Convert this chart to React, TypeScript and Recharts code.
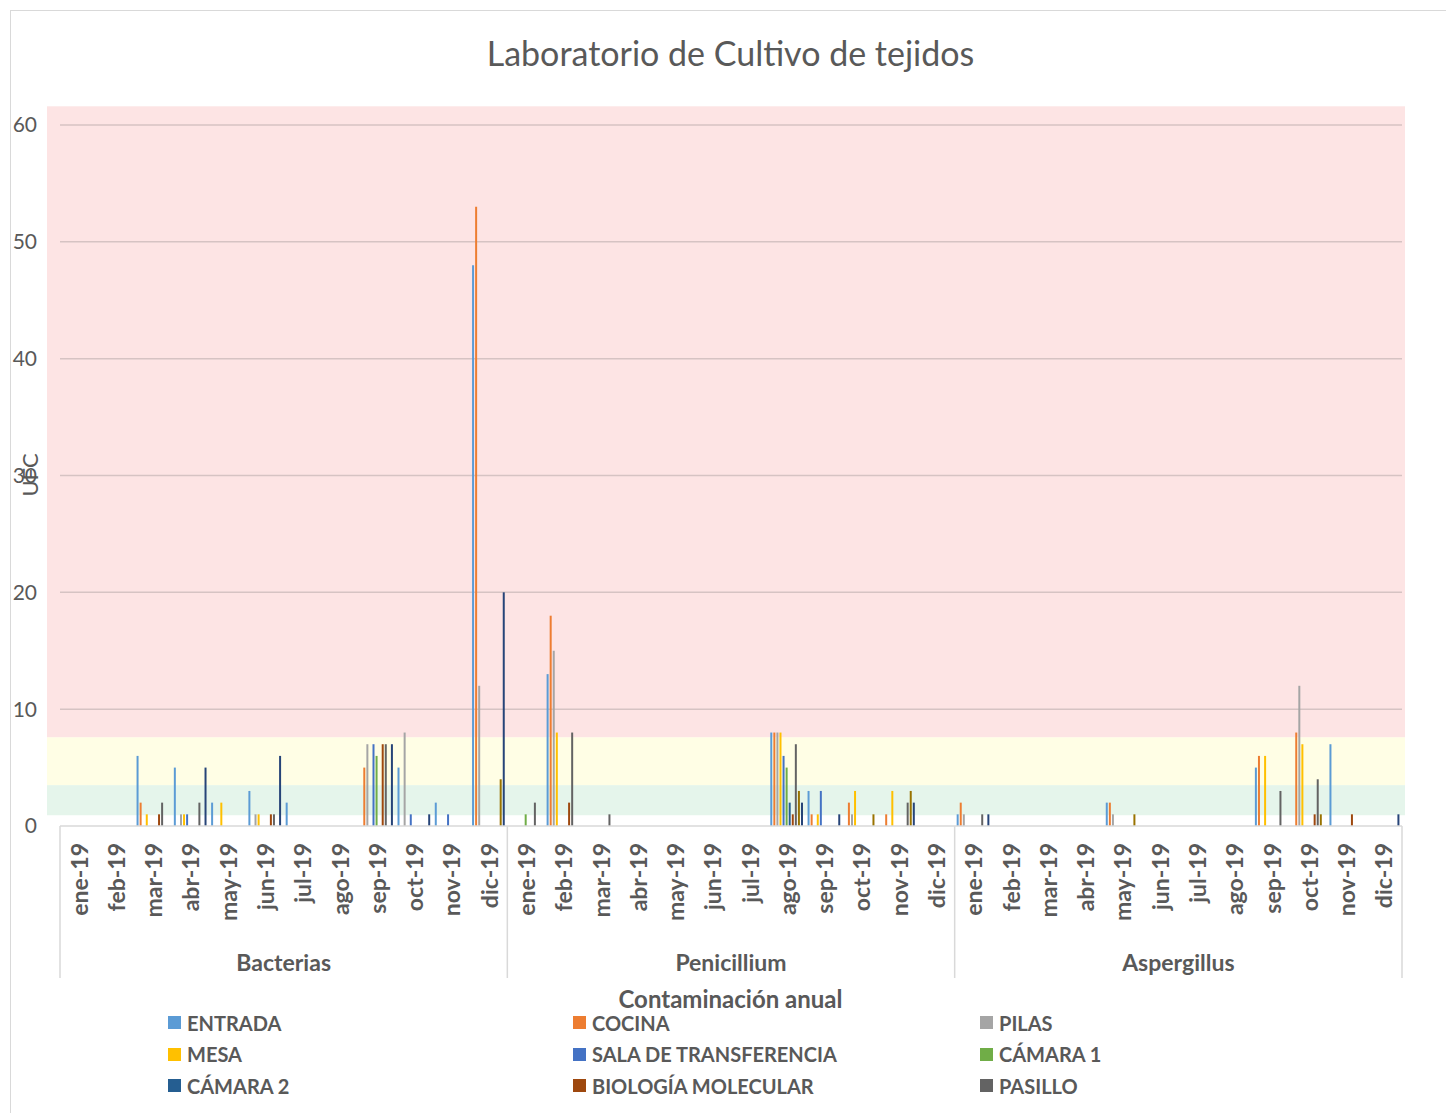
import React from 'react';
import { BarChart, Bar, XAxis, YAxis, ReferenceArea } from 'recharts';

const MONTHS = ['ene-19', 'feb-19', 'mar-19', 'abr-19', 'may-19', 'jun-19', 'jul-19', 'ago-19', 'sep-19', 'oct-19', 'nov-19', 'dic-19'];
const GROUPS = ['Bacterias', 'Penicillium', 'Aspergillus'];
const Y_TICKS = [0, 10, 20, 30, 40, 50, 60];

// values per category: Bacterias (12 months) | Penicillium (12) | Aspergillus (12)
const ENTRADA = [0, 0, 6, 5, 2, 3, 2, 0, 0, 5, 2, 48, 0, 13, 0, 0, 0, 0, 0, 8, 3, 0, 0, 0, 1, 0, 0, 0, 2, 0, 0, 0, 5, 0, 7, 0];
const COCINA = [0, 0, 2, 0, 0, 0, 0, 0, 5, 0, 0, 53, 0, 18, 0, 0, 0, 0, 0, 8, 1, 2, 1, 0, 2, 0, 0, 0, 2, 0, 0, 0, 6, 8, 0, 0];
const PILAS = [0, 0, 0, 1, 0, 1, 0, 0, 7, 8, 0, 12, 0, 15, 0, 0, 0, 0, 0, 8, 0, 1, 0, 0, 1, 0, 0, 0, 1, 0, 0, 0, 0, 12, 0, 0];
const MESA = [0, 0, 1, 1, 2, 1, 0, 0, 0, 0, 0, 0, 0, 8, 0, 0, 0, 0, 0, 8, 1, 3, 3, 0, 0, 0, 0, 0, 0, 0, 0, 0, 6, 7, 0, 0];
const SALA = [0, 0, 0, 1, 0, 0, 0, 0, 7, 1, 1, 0, 0, 0, 0, 0, 0, 0, 0, 6, 3, 0, 0, 0, 0, 0, 0, 0, 0, 0, 0, 0, 0, 0, 0, 0];
const CAMARA1 = [0, 0, 0, 0, 0, 0, 0, 0, 6, 0, 0, 0, 1, 0, 0, 0, 0, 0, 0, 5, 0, 0, 0, 0, 0, 0, 0, 0, 0, 0, 0, 0, 0, 0, 0, 0];
const CAMARA2 = [0, 0, 0, 0, 0, 0, 0, 0, 0, 0, 0, 0, 0, 0, 0, 0, 0, 0, 0, 2, 0, 0, 0, 0, 0, 0, 0, 0, 0, 0, 0, 0, 0, 0, 0, 0];
const BIOLOGIA = [0, 0, 1, 0, 0, 1, 0, 0, 7, 0, 0, 0, 0, 2, 0, 0, 0, 0, 0, 1, 0, 0, 0, 0, 0, 0, 0, 0, 0, 0, 0, 0, 0, 1, 1, 0];
const PASILLO = [0, 0, 2, 2, 0, 1, 0, 0, 7, 0, 0, 0, 2, 8, 1, 0, 0, 0, 0, 7, 0, 0, 2, 0, 1, 0, 0, 0, 0, 0, 0, 0, 3, 4, 0, 0];
const SERIE10 = [0, 0, 0, 0, 0, 0, 0, 0, 0, 0, 0, 4, 0, 0, 0, 0, 0, 0, 0, 3, 0, 1, 3, 0, 0, 0, 0, 0, 1, 0, 0, 0, 0, 1, 0, 0];
const SERIE11 = [0, 0, 0, 5, 0, 6, 0, 0, 7, 1, 0, 20, 0, 0, 0, 0, 0, 0, 0, 2, 1, 0, 2, 0, 1, 0, 0, 0, 0, 0, 0, 0, 0, 0, 0, 1];

// background quality bands (value ranges)
const BANDS = [
  { from: 0.92, to: 3.5, color: '#E5F5EB' },
  { from: 3.5, to: 7.6, color: '#FFFEE5' },
  { from: 7.6, to: 61.6, color: '#FDE4E4' },
];

const SERIES = [
  { key: 'ENTRADA', name: 'ENTRADA', color: '#5B9BD5', values: ENTRADA, legend: true },
  { key: 'COCINA', name: 'COCINA', color: '#ED7D31', values: COCINA, legend: true },
  { key: 'PILAS', name: 'PILAS', color: '#A5A5A5', values: PILAS, legend: true },
  { key: 'MESA', name: 'MESA', color: '#FFC000', values: MESA, legend: true },
  { key: 'SALA', name: 'SALA DE TRANSFERENCIA', color: '#4472C4', values: SALA, legend: true },
  { key: 'CAMARA1', name: 'CÁMARA 1', color: '#70AD47', values: CAMARA1, legend: true },
  { key: 'CAMARA2', name: 'CÁMARA 2', color: '#255E91', values: CAMARA2, legend: true },
  { key: 'BIOLOGIA', name: 'BIOLOGÍA MOLECULAR', color: '#9E480E', values: BIOLOGIA, legend: true },
  { key: 'PASILLO', name: 'PASILLO', color: '#636363', values: PASILLO, legend: true },
  { key: 'SERIE10', name: 'Serie 10', color: '#997300', values: SERIE10, legend: false },
  { key: 'SERIE11', name: 'Serie 11', color: '#264478', values: SERIE11, legend: false },
];

const rows = GROUPS.flatMap((g, gi) =>
  MONTHS.map((m, mi) => {
    const idx = gi * MONTHS.length + mi;
    const r: any = { key: `${g} ${m}`, month: m, group: g };
    SERIES.forEach((s) => {
      r[s.key] = s.values[idx];
    });
    return r;
  })
);

const W = 1439;
const H = 1100;
const MARGIN = { top: 114, right: 48, left: 0, bottom: 105 };
const Y_W = 49;
const X_H = 180;
const PLOT_W = W - MARGIN.left - MARGIN.right - Y_W;
const TEXT = '#595959';
const FONT = 'Lato, "Open Sans", sans-serif';

const MonthTick = (props: any) => {
  const { x, y, index, payload } = props;
  const i = typeof index === 'number' ? index : payload?.index ?? 0;
  const half = payload && typeof payload.offset === 'number' && payload.offset > 0 ? payload.offset : PLOT_W / rows.length / 2;
  const n = MONTHS.length;
  const ty = y + 17;
  const row = rows[i];
  return (
    <g>
      <text
        x={x}
        y={ty}
        transform={`rotate(-90, ${x}, ${ty})`}
        textAnchor="end"
        dominantBaseline="central"
        fill={TEXT}
        fontSize={23}
        fontWeight={700}
        fontFamily={FONT}
      >
        {row ? row.month : ''}
      </text>
      {i % n === 0 && <line x1={x - half} x2={x - half} y1={y} y2={y + 152} stroke="#d9d9d9" strokeWidth={1.5} />}
      {i === rows.length - 1 && <line x1={x + half} x2={x + half} y1={y} y2={y + 152} stroke="#d9d9d9" strokeWidth={1.5} />}
      {i % n === n / 2 - 1 && (
        <text x={x + half} y={y + 136} textAnchor="middle" dominantBaseline="central" fill={TEXT} fontSize={23} fontWeight={700} fontFamily={FONT}>
          {row ? row.group : ''}
        </text>
      )}
    </g>
  );
};

// band rectangle (slightly wider than the plot) plus the value gridlines that fall inside it
const bandShape = (band: { from: number; to: number; color: string }) => (p: any) => {
  const pxPerUnit = p.height / (band.to - band.from);
  const yOf = (v: number) => p.y + (band.to - v) * pxPerUnit;
  const lines = Y_TICKS.filter((t) => t > 0 && t >= band.from && t <= band.to);
  return (
    <g>
      <rect x={p.x - 13} y={p.y} width={p.width + 16} height={p.height} fill={band.color} stroke="none" />
      {lines.map((t) => (
        <line key={t} x1={p.x} x2={p.x + p.width} y1={yOf(t)} y2={yOf(t)} stroke="#d6c3c3" strokeWidth={1.5} />
      ))}
    </g>
  );
};

export default function App() {
  const legendItems = SERIES.filter((s) => s.legend);
  return (
    <div style={{ paddingLeft: 2, paddingTop: 2 }}>
      <div
        style={{
          position: 'relative',
          width: 1441,
          height: 1110,
          border: '1px solid #d9d9d9',
          boxSizing: 'border-box',
          fontFamily: FONT,
          color: TEXT,
          overflow: 'hidden',
          background: '#fff',
        }}
      >
        <BarChart width={W} height={H} data={rows} margin={MARGIN} barGap={1.07} barSize={2}>
          {BANDS.map((b) => (
            <ReferenceArea key={b.color} y1={b.from} y2={b.to} ifOverflow="visible" shape={bandShape(b)} />
          ))}
          <XAxis
            dataKey="key"
            interval={0}
            height={X_H}
            tickSize={0}
            tickMargin={0}
            tickLine={false}
            axisLine={{ stroke: '#d9d9d9', strokeWidth: 1.5 }}
            tick={<MonthTick />}
          />
          <YAxis
            width={Y_W}
            domain={[0, 60]}
            ticks={Y_TICKS}
            axisLine={false}
            tickLine={false}
            tickSize={6}
            tickMargin={17}
            tick={{ fill: TEXT, fontSize: 21, fontFamily: FONT }}
            allowDataOverflow
          />
          {SERIES.map((s) => (
            <Bar key={s.key} dataKey={s.key} name={s.name} fill={s.color} barSize={2} isAnimationActive={false} />
          ))}
        </BarChart>

        <div
          style={{
            position: 'absolute',
            left: 0,
            top: 22,
            width: '100%',
            textAlign: 'center',
            fontSize: 34,
            lineHeight: '40px',
            color: TEXT,
          }}
        >
          Laboratorio de Cultivo de tejidos
        </div>

        <div
          style={{
            position: 'absolute',
            left: 19,
            top: 464,
            transform: 'translate(-50%, -50%) rotate(-90deg)',
            fontSize: 22,
            lineHeight: '26px',
            whiteSpace: 'nowrap',
          }}
        >
          UFC
        </div>

        <div
          style={{
            position: 'absolute',
            left: 0,
            top: 977,
            width: '100%',
            textAlign: 'center',
            fontSize: 24,
            fontWeight: 700,
            lineHeight: '22px',
          }}
        >
          Contaminación anual
        </div>

        <div
          style={{
            position: 'absolute',
            left: 157,
            top: 996,
            display: 'grid',
            gridTemplateColumns: '405px 407px 300px',
            gridAutoRows: '31.5px',
          }}
        >
          {legendItems.map((s) => (
            <div key={s.key} style={{ display: 'flex', alignItems: 'center', whiteSpace: 'nowrap' }}>
              <span style={{ display: 'inline-block', width: 13, height: 13, background: s.color, marginRight: 6 }} />
              <span style={{ fontSize: 20, fontWeight: 700, color: TEXT, lineHeight: '24px' }}>{s.name}</span>
            </div>
          ))}
        </div>
      </div>
    </div>
  );
}
